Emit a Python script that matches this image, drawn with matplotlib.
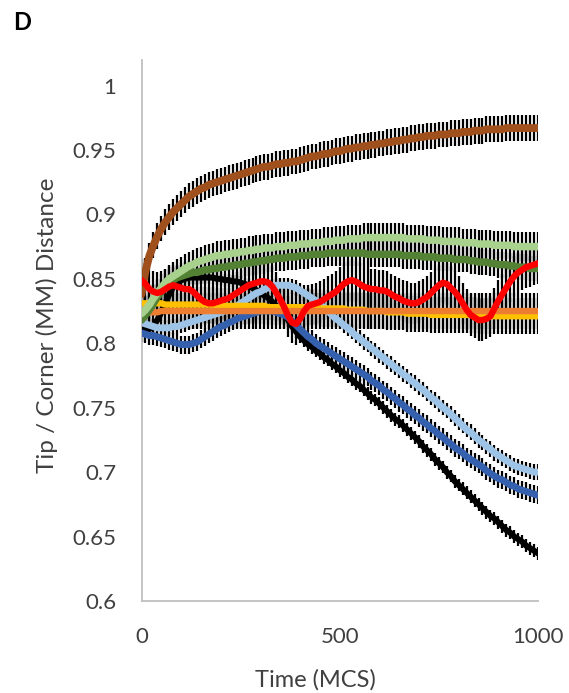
import numpy as np
import matplotlib
matplotlib.use("Agg")
import matplotlib.pyplot as plt

plt.rcParams['font.family'] = ['Lato', 'DejaVu Sans']

# Simulation time (MCS), sampled every 10 steps
time_mcs = np.arange(0, 1001, 10)

brown = [0.838, 0.856, 0.868, 0.876, 0.883, 0.889, 0.894, 0.898, 0.902, 0.905,
         0.908, 0.911, 0.914, 0.916, 0.918, 0.920, 0.921, 0.923, 0.924, 0.925,
         0.926, 0.927, 0.928, 0.929, 0.930, 0.931, 0.932, 0.933, 0.934, 0.935,
         0.936, 0.937, 0.937, 0.938, 0.939, 0.939, 0.940, 0.940, 0.941, 0.941,
         0.942, 0.943, 0.944, 0.945, 0.945, 0.946, 0.947, 0.947, 0.948, 0.949,
         0.949, 0.950, 0.951, 0.951, 0.952, 0.952, 0.953, 0.953, 0.954, 0.954,
         0.955, 0.955, 0.956, 0.956, 0.957, 0.957, 0.958, 0.958, 0.959, 0.959,
         0.960, 0.960, 0.961, 0.961, 0.961, 0.962, 0.962, 0.962, 0.963, 0.963,
         0.963, 0.964, 0.964, 0.964, 0.965, 0.965, 0.965, 0.966, 0.966, 0.966,
         0.966, 0.966, 0.967, 0.967, 0.967, 0.967, 0.967, 0.967, 0.967, 0.967,
         0.967]

light_green = [0.823, 0.826, 0.830, 0.835, 0.839, 0.843, 0.847, 0.850, 0.852, 0.854,
               0.856, 0.858, 0.860, 0.861, 0.863, 0.864, 0.865, 0.866, 0.867, 0.868,
               0.868, 0.869, 0.869, 0.870, 0.870, 0.871, 0.871, 0.872, 0.872, 0.873,
               0.873, 0.874, 0.874, 0.874, 0.875, 0.875, 0.875, 0.876, 0.876, 0.876,
               0.877, 0.877, 0.877, 0.878, 0.878, 0.878, 0.879, 0.879, 0.879, 0.880,
               0.880, 0.880, 0.881, 0.881, 0.881, 0.881, 0.882, 0.882, 0.882, 0.882,
               0.882, 0.882, 0.882, 0.882, 0.882, 0.882, 0.882, 0.881, 0.881, 0.881,
               0.881, 0.881, 0.880, 0.880, 0.880, 0.880, 0.879, 0.879, 0.879, 0.879,
               0.879, 0.878, 0.878, 0.878, 0.878, 0.877, 0.877, 0.877, 0.877, 0.876,
               0.876, 0.876, 0.876, 0.876, 0.875, 0.875, 0.875, 0.875, 0.875, 0.875,
               0.875]

dark_green = [0.818, 0.822, 0.826, 0.831, 0.836, 0.840, 0.844, 0.847, 0.849, 0.851,
              0.852, 0.853, 0.854, 0.855, 0.855, 0.856, 0.857, 0.857, 0.858, 0.858,
              0.859, 0.859, 0.860, 0.860, 0.861, 0.861, 0.862, 0.862, 0.863, 0.863,
              0.864, 0.864, 0.865, 0.865, 0.866, 0.866, 0.866, 0.867, 0.867, 0.867,
              0.868, 0.868, 0.868, 0.869, 0.869, 0.869, 0.869, 0.870, 0.870, 0.870,
              0.870, 0.870, 0.870, 0.870, 0.870, 0.870, 0.870, 0.869, 0.869, 0.869,
              0.869, 0.869, 0.869, 0.869, 0.869, 0.869, 0.868, 0.868, 0.868, 0.868,
              0.868, 0.867, 0.867, 0.867, 0.867, 0.866, 0.866, 0.866, 0.866, 0.865,
              0.865, 0.865, 0.865, 0.864, 0.864, 0.863, 0.863, 0.863, 0.862, 0.862,
              0.861, 0.861, 0.861, 0.860, 0.860, 0.859, 0.859, 0.859, 0.858, 0.858,
              0.858]

red = [0.849, 0.846, 0.842, 0.840, 0.839, 0.840, 0.842, 0.844, 0.845, 0.844,
       0.843, 0.842, 0.842, 0.840, 0.837, 0.834, 0.832, 0.831, 0.831, 0.832,
       0.833, 0.834, 0.835, 0.837, 0.839, 0.841, 0.843, 0.845, 0.846, 0.847,
       0.848, 0.848, 0.847, 0.844, 0.839, 0.834, 0.828, 0.821, 0.816, 0.815,
       0.819, 0.825, 0.829, 0.830, 0.831, 0.832, 0.834, 0.836, 0.838, 0.840,
       0.843, 0.846, 0.848, 0.849, 0.848, 0.846, 0.844, 0.843, 0.842, 0.842,
       0.841, 0.841, 0.840, 0.838, 0.836, 0.835, 0.833, 0.832, 0.831, 0.831,
       0.832, 0.834, 0.836, 0.839, 0.842, 0.845, 0.847, 0.846, 0.843, 0.840,
       0.836, 0.831, 0.826, 0.822, 0.820, 0.818, 0.818, 0.819, 0.821, 0.827,
       0.833, 0.838, 0.843, 0.848, 0.852, 0.855, 0.857, 0.859, 0.860, 0.861,
       0.862]

orange = [0.823, 0.823, 0.824, 0.824, 0.824, 0.825, 0.825, 0.825, 0.825, 0.825,
          0.825, 0.825, 0.825, 0.825, 0.825, 0.825, 0.825, 0.825, 0.825, 0.825,
          0.825, 0.825, 0.825, 0.825, 0.825, 0.825, 0.825, 0.825, 0.825, 0.825,
          0.825, 0.825, 0.825, 0.825, 0.825, 0.825, 0.825, 0.825, 0.825, 0.825,
          0.825, 0.825, 0.825, 0.825, 0.825, 0.825, 0.825, 0.825, 0.825, 0.825,
          0.825, 0.825, 0.825, 0.825, 0.825, 0.825, 0.825, 0.825, 0.825, 0.825,
          0.825, 0.825, 0.825, 0.825, 0.825, 0.825, 0.825, 0.825, 0.825, 0.825,
          0.825, 0.825, 0.825, 0.825, 0.825, 0.825, 0.825, 0.825, 0.825, 0.825,
          0.825, 0.825, 0.825, 0.825, 0.825, 0.825, 0.825, 0.825, 0.825, 0.825,
          0.825, 0.825, 0.825, 0.825, 0.825, 0.825, 0.825, 0.825, 0.825, 0.825,
          0.825]

yellow = [0.831, 0.831, 0.831, 0.831, 0.831, 0.831, 0.830, 0.830, 0.830, 0.830,
          0.830, 0.830, 0.830, 0.830, 0.830, 0.830, 0.830, 0.830, 0.830, 0.829,
          0.829, 0.829, 0.829, 0.829, 0.829, 0.829, 0.829, 0.829, 0.829, 0.829,
          0.829, 0.829, 0.828, 0.828, 0.828, 0.828, 0.828, 0.828, 0.828, 0.828,
          0.828, 0.828, 0.828, 0.828, 0.828, 0.827, 0.827, 0.827, 0.827, 0.827,
          0.827, 0.827, 0.826, 0.826, 0.826, 0.826, 0.826, 0.825, 0.825, 0.825,
          0.825, 0.825, 0.824, 0.824, 0.824, 0.824, 0.824, 0.823, 0.823, 0.823,
          0.823, 0.823, 0.823, 0.822, 0.822, 0.822, 0.822, 0.822, 0.822, 0.822,
          0.822, 0.822, 0.822, 0.822, 0.822, 0.821, 0.821, 0.821, 0.821, 0.821,
          0.821, 0.821, 0.821, 0.821, 0.821, 0.821, 0.821, 0.821, 0.821, 0.821,
          0.821]

black = [0.812, 0.810, 0.811, 0.814, 0.818, 0.824, 0.831, 0.838, 0.844, 0.847,
         0.849, 0.850, 0.851, 0.851, 0.851, 0.851, 0.851, 0.851, 0.851, 0.850,
         0.850, 0.849, 0.849, 0.848, 0.848, 0.847, 0.846, 0.845, 0.843, 0.841,
         0.839, 0.837, 0.835, 0.832, 0.829, 0.826, 0.822, 0.818, 0.813, 0.809,
         0.805, 0.802, 0.799, 0.797, 0.794, 0.792, 0.789, 0.787, 0.784, 0.782,
         0.779, 0.777, 0.774, 0.772, 0.769, 0.767, 0.764, 0.761, 0.758, 0.756,
         0.753, 0.750, 0.747, 0.744, 0.741, 0.739, 0.736, 0.733, 0.730, 0.727,
         0.724, 0.720, 0.717, 0.714, 0.710, 0.707, 0.704, 0.700, 0.697, 0.693,
         0.690, 0.687, 0.684, 0.681, 0.678, 0.675, 0.672, 0.669, 0.666, 0.664,
         0.661, 0.658, 0.655, 0.653, 0.650, 0.648, 0.646, 0.643, 0.641, 0.639,
         0.637]

light_blue = [0.816, 0.815, 0.814, 0.813, 0.812, 0.812, 0.812, 0.812, 0.813, 0.813,
              0.814, 0.815, 0.816, 0.817, 0.818, 0.819, 0.820, 0.821, 0.822, 0.823,
              0.824, 0.825, 0.826, 0.828, 0.829, 0.831, 0.833, 0.835, 0.837, 0.839,
              0.840, 0.842, 0.843, 0.844, 0.845, 0.845, 0.845, 0.845, 0.844, 0.843,
              0.841, 0.839, 0.837, 0.835, 0.833, 0.830, 0.828, 0.825, 0.822, 0.819,
              0.817, 0.814, 0.812, 0.809, 0.806, 0.804, 0.801, 0.799, 0.796, 0.794,
              0.791, 0.789, 0.786, 0.784, 0.781, 0.779, 0.776, 0.774, 0.771, 0.769,
              0.766, 0.764, 0.761, 0.758, 0.756, 0.753, 0.750, 0.748, 0.745, 0.742,
              0.739, 0.736, 0.733, 0.731, 0.728, 0.725, 0.723, 0.720, 0.718, 0.715,
              0.713, 0.711, 0.709, 0.707, 0.705, 0.704, 0.703, 0.702, 0.701, 0.700,
              0.700]

dark_blue = [0.808, 0.807, 0.806, 0.806, 0.805, 0.804, 0.803, 0.802, 0.801, 0.800,
             0.799, 0.799, 0.799, 0.800, 0.801, 0.803, 0.805, 0.807, 0.809, 0.811,
             0.813, 0.814, 0.816, 0.817, 0.819, 0.820, 0.821, 0.822, 0.823, 0.824,
             0.825, 0.825, 0.825, 0.825, 0.824, 0.823, 0.822, 0.820, 0.817, 0.814,
             0.811, 0.808, 0.805, 0.803, 0.800, 0.798, 0.796, 0.794, 0.792, 0.790,
             0.788, 0.786, 0.784, 0.782, 0.780, 0.778, 0.776, 0.774, 0.771, 0.769,
             0.767, 0.764, 0.762, 0.759, 0.757, 0.754, 0.752, 0.749, 0.747, 0.744,
             0.742, 0.739, 0.737, 0.734, 0.732, 0.729, 0.727, 0.724, 0.722, 0.719,
             0.717, 0.715, 0.712, 0.710, 0.708, 0.706, 0.704, 0.701, 0.699, 0.697,
             0.695, 0.694, 0.692, 0.690, 0.689, 0.687, 0.686, 0.685, 0.684, 0.683,
             0.682]

# Standard deviation of each series
err_brown = 0.010
err_light_green = 0.011
err_dark_green = 0.010
err_red = 0.016
err_orange = 0.014
err_yellow = 0.014
err_black = 0.005
err_light_blue = 0.006
err_dark_blue = 0.007

y_ticks = [0.6, 0.65, 0.7, 0.75, 0.8, 0.85, 0.9, 0.95, 1.0]
y_tick_labels = ["0.6", "0.65", "0.7", "0.75", "0.8", "0.85", "0.9", "0.95", "1"]
x_ticks = [0, 500, 1000]
x_tick_labels = ["0", "500", "1000"]

# (values, error, colour, line width) in drawing order, bottom to top
series = [
    (black, err_black, "#000000", 4.4),
    (dark_blue, err_dark_blue, "#3560AE", 5.0),
    (light_blue, err_light_blue, "#9DC3E6", 5.0),
    (yellow, err_yellow, "#FFC000", 4.6),
    (orange, err_orange, "#ED7D31", 4.6),
    (dark_green, err_dark_green, "#548235", 5.4),
    (light_green, err_light_green, "#A9D18E", 5.4),
    (brown, err_brown, "#A0501C", 5.6),
    (red, err_red, "#FF0000", 4.6),
]

W, H = 569, 693
fig = plt.figure(figsize=(W / 100, H / 100), dpi=100)
ax = fig.add_axes([141.5 / W, 92 / H, 396.5 / W, 541 / H])

for values, err, colour, lw in series:
    ax.errorbar(time_mcs, values, yerr=err, fmt="none", ecolor="black",
                elinewidth=1.6, capsize=0, zorder=2)

for i, (values, err, colour, lw) in enumerate(series):
    ax.plot(time_mcs, values, color=colour, lw=lw, solid_capstyle="round",
            solid_joinstyle="round", zorder=3 + i)

ax.set_xlim(0, 1000)
ax.set_ylim(0.6, 1.0198)
ax.set_yticks(y_ticks)
ax.set_yticklabels(y_tick_labels)
ax.set_xticks(x_ticks)
ax.set_xticklabels(x_tick_labels)
ax.tick_params(axis="both", length=0, labelsize=16, colors="#404040")
ax.tick_params(axis="y", pad=18)
ax.tick_params(axis="x", pad=19)

for side in ("top", "right"):
    ax.spines[side].set_visible(False)
for side in ("left", "bottom"):
    ax.spines[side].set_color("#BFBFBF")
    ax.spines[side].set_linewidth(1.3)

fig.text(47 / W, 1 - 325 / H, "Tip / Corner (MM) Distance", rotation=90,
         ha="center", va="center", fontsize=17.5, color="#404040")
fig.text(315 / W, 1 - 680 / H, "Time (MCS)", ha="center", va="center",
         fontsize=17, color="#404040")
fig.text(22 / W, 1 - 22 / H, "D", ha="center", va="center",
         fontsize=17, fontweight="bold", color="#000000")

fig.savefig("out.png", dpi=100)
